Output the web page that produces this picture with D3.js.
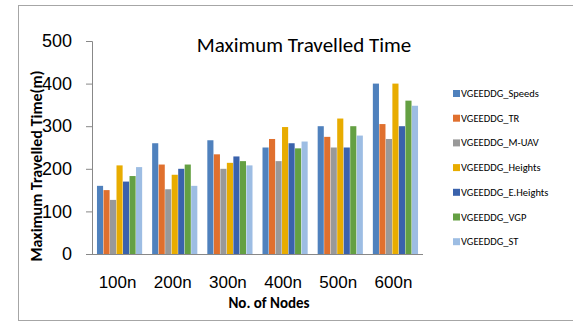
<!DOCTYPE html>
<html>
<head>
<meta charset="utf-8">
<script src="https://cdn.jsdelivr.net/npm/d3@7"></script>
<style>
  body { margin: 0; background: #fff; }
  svg { display: block; font-family: Calibri, Carlito, "Liberation Sans", "Open Sans", sans-serif; }
</style>
</head>
<body>
<div id="chart"></div>
<script>
// chart values
const categories = ["100n", "200n", "300n", "400n", "500n", "600n"];
const seriesNames = ["VGEEDDG_Speeds", "VGEEDDG_TR", "VGEEDDG_M-UAV", "VGEEDDG_Heights",
                     "VGEEDDG_E.Heights", "VGEEDDG_VGP", "VGEEDDG_ST"];
const speeds   = [160, 260, 267, 250, 300, 400];
const tr       = [150, 210, 234, 270, 275, 305];
const muav     = [127, 152, 200, 218, 250, 270];
const heights  = [208, 186, 214, 298, 318, 400];
const eheights = [170, 200, 229, 260, 250, 300];
const vgp      = [183, 210, 218, 248, 300, 360];
const st       = [204, 160, 208, 264, 278, 348];
const yTicks   = [0, 100, 200, 300, 400, 500];

const seriesValues = [speeds, tr, muav, heights, eheights, vgp, st];
const colors = ["#4f81bd", "#e0702e", "#999999", "#e8ac00", "#3a62ac", "#64a043", "#9dbde3"];

const W = 573, H = 322;
const svg = d3.select("#chart").append("svg").attr("width", W).attr("height", H);

// outer frame
svg.append("rect")
   .attr("x", 18.5).attr("y", 5.5)
   .attr("width", W).attr("height", 315)
   .attr("fill", "none").attr("stroke", "#a6a6a6").attr("stroke-width", 1);

const plotL = 92, plotR = 423, plotT = 41, plotB = 254;

const x0 = d3.scaleBand().domain(categories).range([plotL, plotR]).paddingInner(0.167).paddingOuter(0.083);
const x1 = d3.scaleBand().domain(seriesNames).range([0, x0.bandwidth()]).padding(0.06);
const y = d3.scaleLinear().domain([0, 500]).range([plotB, plotT]);

// bars
const groups = svg.selectAll("g.grp")
   .data(categories)
   .enter().append("g")
   .attr("class", "grp")
   .attr("transform", d => `translate(${x0(d)},0)`);

groups.selectAll("rect")
   .data((c, ci) => seriesNames.map((s, si) => ({s: s, v: seriesValues[si][ci], i: si})))
   .enter().append("rect")
   .attr("x", d => x1(d.s))
   .attr("width", x1.bandwidth())
   .attr("y", d => y(d.v))
   .attr("height", d => y(0) - y(d.v))
   .attr("fill", d => colors[d.i]);

// y axis
const yAxis = svg.append("g")
   .attr("transform", `translate(${plotL},0)`)
   .call(d3.axisLeft(y).tickValues(yTicks).tickSize(6).tickPadding(14));
yAxis.select(".domain").attr("stroke", "#888");
yAxis.selectAll(".tick line").attr("stroke", "#888");
yAxis.selectAll(".tick text").attr("font-size", 18).attr("fill", "#000").attr("font-family", "inherit");

// x axis
const xAxis = svg.append("g")
   .attr("transform", `translate(0,${plotB})`)
   .call(d3.axisBottom(x0).tickSize(0).tickPadding(22));
xAxis.select(".domain").attr("stroke", "#888").attr("d", `M${plotL},0.5H${plotR}`);
xAxis.selectAll(".tick text").attr("font-size", 17).attr("fill", "#000")
   .attr("font-family", "inherit").attr("dx", -2);

// title
svg.append("text")
   .attr("x", 304).attr("y", 52)
   .attr("text-anchor", "middle")
   .attr("font-size", 21)
   .text("Maximum Travelled Time");

// axis titles
svg.append("text")
   .attr("x", 269).attr("y", 308)
   .attr("text-anchor", "middle")
   .attr("font-size", 15).attr("font-weight", "bold")
   .text("No. of Nodes");

svg.append("text")
   .attr("transform", "translate(42,166) rotate(-90)")
   .attr("text-anchor", "middle")
   .attr("font-size", 16).attr("font-weight", "bold")
   .text("Maximum Travelled Time(m)");

// legend
const legend = svg.selectAll("g.leg")
   .data(seriesNames)
   .enter().append("g")
   .attr("class", "leg")
   .attr("transform", (d, i) => `translate(453,${94 + i * 24.7})`);
legend.append("rect")
   .attr("x", 0).attr("y", -4).attr("width", 7).attr("height", 7)
   .attr("fill", (d, i) => colors[i]);
legend.append("text")
   .attr("x", 8).attr("y", 3)
   .attr("font-size", 10.5)
   .text(d => d);
</script>
</body>
</html>
